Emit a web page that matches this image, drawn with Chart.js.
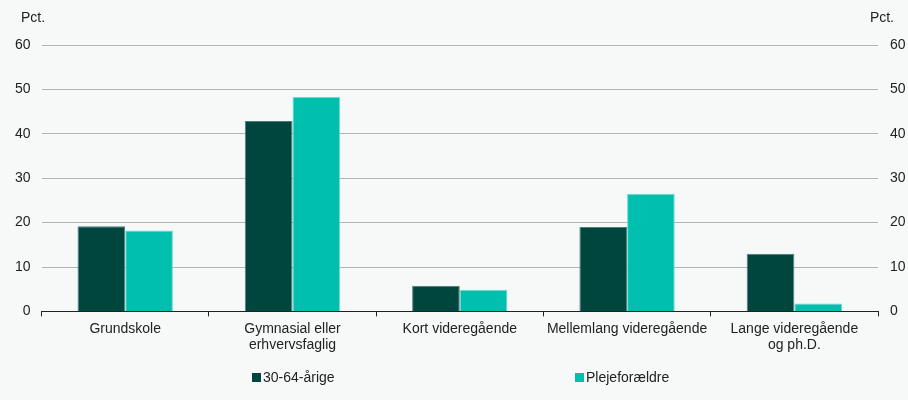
<!DOCTYPE html>
<html>
<head>
<meta charset="utf-8">
<script src="https://cdn.jsdelivr.net/npm/chart.js@4/dist/chart.umd.min.js"></script>
<style>
  html, body { margin: 0; padding: 0; background: #f7f9f9; }
  #wrap { position: relative; width: 908px; height: 400px; font-family: "Liberation Sans", Arial, sans-serif; }
  #legend { position: absolute; top: 369px; left: 0; width: 908px; font-size: 14px; color: #222; }
  #legend span.item { position: absolute; white-space: nowrap; }
  #legend i { display: inline-block; width: 9px; height: 9px; margin-right: 2px; vertical-align: 0px; }
</style>
</head>
<body>
<div id="wrap">
  <canvas id="chart" width="908" height="400"></canvas>
  <div id="legend"></div>
</div>
<script>
const categories = [
    'Grundskole',
    ['Gymnasial eller', 'erhvervsfaglig'],
    'Kort videregående',
    'Mellemlang videregående',
    ['Lange videregående', 'og ph.D.']
];
const seriesNames = ['30-64-årige', 'Plejeforældre'];
const aged3064 = [19.2, 42.9, 5.8, 19.0, 13.0];
const fosterParents = [18.2, 48.3, 4.9, 26.5, 1.8];
const yTicks = [0, 10, 20, 30, 40, 50, 60];

const colors = ['#00463f', '#00bfae'];
const edges = ['#4f7f7a', '#6fdcd1'];
const font = { family: '"Liberation Sans", Arial, sans-serif', size: 14 };

// "Pct." above both y axes
const unitLabels = {
    id: 'unitLabels',
    afterDraw(chart) {
        const c = chart.ctx;
        c.save();
        c.font = '14px "Liberation Sans", Arial, sans-serif';
        c.fillStyle = '#222';
        c.textBaseline = 'middle';
        c.textAlign = 'left';
        c.fillText('Pct.', 21, 18);
        c.textAlign = 'right';
        c.fillText('Pct.', 894, 18);
        c.restore();
    }
};

const ctx = document.getElementById('chart').getContext('2d');
const chart = new Chart(ctx, {
    type: 'bar',
    data: {
        labels: categories,
        datasets: [
            { label: seriesNames[0], data: aged3064, backgroundColor: colors[0], borderColor: edges[0], borderWidth: 1, yAxisID: 'y' },
            { label: seriesNames[1], data: fosterParents, backgroundColor: colors[1], borderColor: edges[1], borderWidth: 1, yAxisID: 'y' }
        ]
    },
    options: {
        responsive: false,
        animation: false,
        layout: { padding: { top: 45, bottom: 42, left: 4, right: 0 } },
        categoryPercentage: 0.57,
        barPercentage: 1.0,
        plugins: {
            legend: { display: false },
            tooltip: { enabled: false }
        },
        scales: {
            x: {
                grid: { display: true, offset: true, drawOnChartArea: false, drawTicks: true, tickLength: 5, color: '#222' },
                border: { display: true, color: '#222', width: 1 },
                ticks: { font: font, color: '#222', padding: 4, maxRotation: 0, autoSkip: false }
            },
            y: {
                position: 'left',
                min: 0, max: 60,
                afterBuildTicks(axis) { axis.ticks = yTicks.map(v => ({ value: v })); },
                grid: { color: '#b4b4b4', lineWidth: 1, drawTicks: false },
                border: { display: false },
                ticks: { font: font, color: '#222', padding: 11 }
            },
            y2: {
                position: 'right',
                min: 0, max: 60,
                afterBuildTicks(axis) { axis.ticks = yTicks.map(v => ({ value: v })); },
                afterFit(axis) { axis.width = 30; },
                grid: { display: false, drawTicks: false },
                border: { display: false },
                ticks: { font: font, color: '#222', padding: 12 }
            }
        }
    },
    plugins: [unitLabels]
});

// legend below the chart
const legend = document.getElementById('legend');
const legendX = [252, 575];
seriesNames.forEach((name, i) => {
    const s = document.createElement('span');
    s.className = 'item';
    s.style.left = legendX[i] + 'px';
    s.innerHTML = '<i style="background:' + colors[i] + '"></i>' + name;
    legend.appendChild(s);
});
</script>
</body>
</html>
